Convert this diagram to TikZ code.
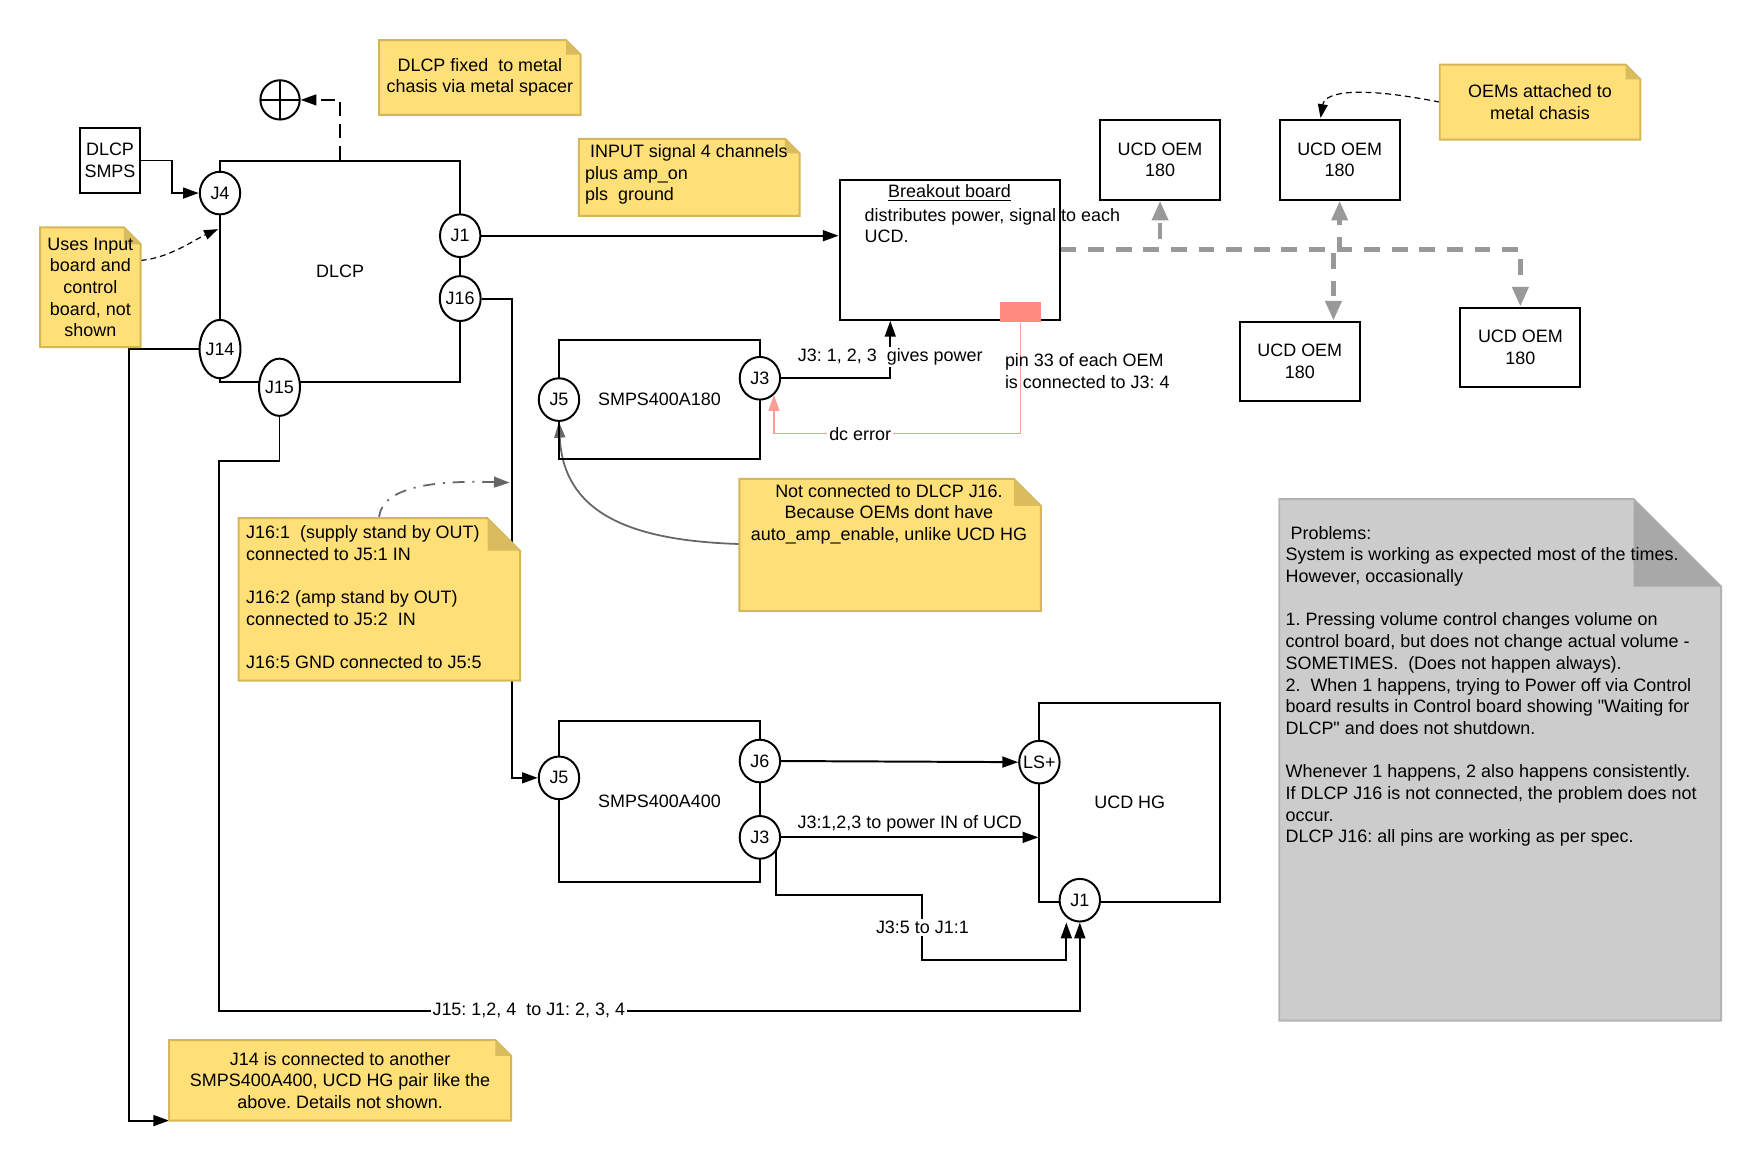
\documentclass[tikz,border=0pt]{standalone}
\usepackage{fontspec}
\setmainfont{Liberation Sans}[Ligatures=TeXOff]
\usetikzlibrary{shapes.geometric, arrows.meta, positioning, calc, backgrounds}
\definecolor{notefill}{HTML}{FFDF77}
\definecolor{noteline}{HTML}{D6B656}
\definecolor{notefold}{HTML}{D8BC5E}
\definecolor{probfill}{HTML}{CCCCCC}
\definecolor{probline}{HTML}{B3B3B3}
\definecolor{probfold}{HTML}{A8A8A8}
\definecolor{errorsalmon}{HTML}{FF8A80}
\definecolor{linksalmon}{HTML}{FF9C94}
\definecolor{oemgray}{HTML}{999999}
\definecolor{curvegray}{HTML}{666666}

\tikzset{
  box/.style={draw, line width=1pt, inner sep=0pt},
  port/.style={draw, ellipse, fill=white, line width=1pt, inner sep=0pt, minimum width=0.72cm, minimum height=0.76cm},
  wire/.style={line width=1pt},
  tip/.style={-{Triangle[length=8pt, width=5.5pt]}},
  linelabel/.style={fill=white, inner sep=1pt, text=black},
  oemlink/.style={oemgray, line width=2.4pt, dash pattern=on 8pt off 6pt, -{Triangle[length=10pt, width=8pt]}},
  notelink/.style={line width=0.6pt, dash pattern=on 3pt off 2pt, -{Triangle[length=7pt, width=5pt]}},
  graylink/.style={curvegray, line width=0.9pt, -{Triangle[length=8pt, width=5.5pt]}},
}

% folded note outline behind a node
\newcommand{\dogear}[3][note]{%
  \filldraw[fill=#1fill, draw=#1line, line width=1pt]
    (#2.south west) -- (#2.north west) -- ([xshift=-#3]#2.north east)
    -- ([yshift=-#3]#2.north east) -- (#2.south east) -- cycle;
  \fill[#1fold] ([xshift=-#3]#2.north east) -- ([xshift=-#3, yshift=-#3]#2.north east)
    -- ([yshift=-#3]#2.north east) -- cycle;
}

\begin{document}
\frenchspacing
\begin{tikzpicture}[x=0.02cm, y=-0.02cm, font=\fontsize{9.1}{11}\selectfont]
  \useasboundingbox (0,0) rectangle (1568,1039.7);

  % DLCP board and its connectors
  \node[box, minimum width=4.28cm, minimum height=3.94cm] (dlcp) at (303,241.5) {DLCP};
  \node[port] (j4) at (196,172) {J4};
  \node[port] (j1) at (410,210) {J1};
  \node[port, minimum height=0.8cm] (j16) at (410,266) {J16};
  \node[port, minimum height=1.04cm] (j14) at (196,311) {J14};
  \node[port, minimum width=0.68cm, minimum height=1.02cm] (j15) at (249,345) {J15};
  \node[box, minimum width=1.08cm, minimum height=1.16cm, align=center] (dlcpsmps) at (98,143) {DLCP\\SMPS};

  % Chassis ground
  \node[draw, circle, line width=1pt, minimum size=0.7cm, inner sep=0pt,
        path picture={\draw[line width=1pt] (path picture bounding box.north) -- (path picture bounding box.south)
                        (path picture bounding box.west) -- (path picture bounding box.east);}] (gnd) at (249.5,89) {};

  % Notes round the DLCP
  \node[minimum width=3.58cm, minimum height=1.32cm, align=center] (spacernote) at (427.5,69) {DLCP fixed\ \ to metal\\chasis via metal spacer};
  \node[minimum width=1.78cm, minimum height=2.12cm, align=center] (usesnote) at (80.5,256) {Uses Input\\board and\\control\\board, not\\shown};
  \node[minimum width=3.92cm, minimum height=1.36cm] (inputnote) at (614,158) {};
  \node[anchor=west, align=left, inner sep=0pt] (inputtext) at (521,155.5) {\ INPUT signal 4 channels\\plus amp\_on\\pls\ \ ground};

  % Breakout board
  \node[box, minimum width=3.92cm, minimum height=2.5cm] (breakout) at (846,222.5) {};
  \node[inner sep=0pt] (breakouttitle) at (846,172) {\underline{Breakout board}};
  \node[anchor=west, align=left, inner sep=0pt] (breakouttext) at (770,201) {distributes power, signal to each\\UCD.};
  \node[fill=errorsalmon, minimum width=0.72cm, minimum height=0.36cm, inner sep=0pt] (dcpin) at (909,278) {};
  \coordinate (breakpow) at ($(breakout.south west)+(46,0)$);

  % UCD OEM modules
  \foreach \name/\x/\y in {oema/1033.5/142.5, oemb/1193.5/142.5, oemc/1158/322, oemd/1354.5/309.5}
    \node[box, minimum width=2.14cm, minimum height=1.42cm, align=center] (\name) at (\x,\y) {UCD OEM\\180};
  \node[minimum width=3.56cm, minimum height=1.32cm, align=center] (oemnote) at (1372,91) {OEMs attached to\\metal chasis};
  \coordinate (oembin) at ($(oemb.north)+(-17,-1)$);
  \coordinate (oemcin) at ($(oemc.north)+(30,0)$);

  % SMPS400A180
  \node[box, minimum width=3.58cm, minimum height=2.12cm] (smpsa) at (587.5,356) {SMPS400A180};
  \node[port] (j5a) at (498,356) {J5};
  \node[port] (j3a) at (677,337) {J3};
  \node[anchor=west, align=left, inner sep=0pt] (pintext) at (895,330.5) {pin 33 of each OEM\\is connected to J3: 4};
  \node[minimum width=5.36cm, minimum height=2.34cm] (oemwarn) at (793,485.5) {};
  \node[align=center, inner sep=0pt] (oemwarntext) at (792,458) {Not connected to DLCP J16.\\Because OEMs dont have\\auto\_amp\_enable, unlike UCD HG};

  % J16 pin note
  \node[minimum width=5cm, minimum height=2.88cm] (j16note) at (338,534) {};
  \node[anchor=west, align=left, inner sep=0pt] (j16text) at (219,532) {J16:1\ \ (supply stand by OUT)\\connected to J5:1 IN\\[11pt]J16:2 (amp stand by OUT)\\connected to J5:2\ \ IN\\[11pt]J16:5 GND connected to J5:5};
  \coordinate (j16hit) at ($(j16.east)+(25,164)$);

  % SMPS400A400 and UCD HG
  \node[box, minimum width=3.58cm, minimum height=2.88cm] (smpsb) at (587.5,714) {SMPS400A400};
  \node[port] (j5b) at (498,693) {J5};
  \node[port] (j6) at (677,678) {J6};
  \node[port] (j3b) at (677,746) {J3};
  \node[box, minimum width=3.22cm, minimum height=3.56cm] (ucdhg) at (1006.5,715) {UCD HG};
  \node[port, inner xsep=-2pt] (lsplus) at (926,679) {LS+};
  \node[port] (j1hg) at (962,802) {J1};
  \coordinate (j1hgleft) at ($(j1hg.south)+(-12,0)$);

  % J14 note
  \node[minimum width=6.08cm, minimum height=1.42cm, align=center] (j14note) at (303,962.5) {J14 is connected to another\\SMPS400A400, UCD HG pair like the\\above. Details not shown.};

  % Problems
  \node[minimum width=7.86cm, minimum height=9.28cm] (problems) at (1336.5,677) {};
  \node[anchor=west, align=left, inner sep=0pt] (problemtext) at (1145,611.5) {\ Problems:\\System is working as expected most of the times.\\However, occasionally\\[11pt]1. Pressing volume control changes volume on\\control board, but does not change actual volume -\\SOMETIMES.\ \ (Does not happen always).\\2.\ \ When 1 happens, trying to Power off via Control\\board results in Control board showing "Waiting for\\DLCP" and does not shutdown.\\[11pt]Whenever 1 happens, 2 also happens consistently.\\If DLCP J16 is not connected, the problem does not\\occur.\\DLCP J16: all pins are working as per spec.};

  \begin{scope}[on background layer]
    % Wiring
    \draw[wire, tip] (dlcpsmps.east) -- ++(27,0) |- (j4.west);
    \draw[wire, tip, dash pattern=on 7pt off 4pt] (dlcp.north) |- (gnd.east);
    \draw[notelink] ($(usesnote.east)+(0,-24)$) .. controls +(25,-2) and +(-22,10) .. ($(dlcp.north west)+(-1,62)$);
    \draw[wire, tip] (j14.west) -- ++(-62,0) |- (j14note.south west);
    \draw[wire, tip] (j15.south) -- ++(0,39) -- ++(-54,0) -- ++(0,490)
      -| node[linelabel, pos=0.18] (j15label) {J15: 1,2, 4\ \ to J1: 2, 3, 4} (j1hg.south);
    \draw[wire, tip] (j1.east) -- (j1.east -| breakout.west);
    \draw[wire, tip] (j16.east) -- ++(27,0) |- (j5b.west);
    \draw[wire, tip] (j3a.east) -| node[linelabel, pos=0.685] (powerlabel) {J3: 1, 2, 3\ \ gives power} (breakpow);
    \draw[linksalmon, line width=0.8pt, -{Triangle[length=8pt, width=5.5pt]}] (dcpin.south) -- ++(0,99)
      -| node[linelabel, pos=0.325] (dclabel) {dc error} (j3a.-50);

    % Power and signal to the OEMs
    \draw[oemlink] (breakout.east) -| (oema.south);
    \draw[oemlink] (breakout.east) -| (oemb.south);
    \draw[oemlink] (breakout.east) -| (oemcin);
    \draw[oemlink] (breakout.east) -| (oemd.north);
    \draw[notelink] (oemnote.west) .. controls +(-70,-14) and +(4,-24) .. (oembin);

    % Note pointers
    \draw[graylink] ($(oemwarn.north west)+(0,58)$) .. controls +(-100,-3) and +(4,80) .. (j5a.south);
    \draw[graylink, dash pattern=on 6pt off 4pt on 1pt off 4pt] ($(j16note.north west)+(125,0)$) .. controls +(2,-30) and +(-60,-2) .. (j16hit);

    % Lower amplifier chain
    \draw[wire, tip] (j6.east) -- (lsplus.west);
    \draw[wire, tip] (j3b.east) -- node[above=1pt, inner sep=1pt] (ucdpowlabel) {J3:1,2,3 to power IN of UCD} (j3b.east -| ucdhg.west);
    \draw[wire, tip] (j3b.-40) |- ++(130,39) -- node[linelabel] (j35label) {J3:5 to J1:1} ++(0,58) -| (j1hgleft);

    % Notes
    \dogear{spacernote}{0.26cm}
    \dogear{usesnote}{0.3cm}
    \dogear{inputnote}{0.26cm}
    \dogear{oemnote}{0.26cm}
    \dogear{oemwarn}{0.48cm}
    \dogear{j16note}{0.58cm}
    \dogear{j14note}{0.28cm}
    \dogear[prob]{problems}{1.56cm}
  \end{scope}
\end{tikzpicture}
\end{document}
